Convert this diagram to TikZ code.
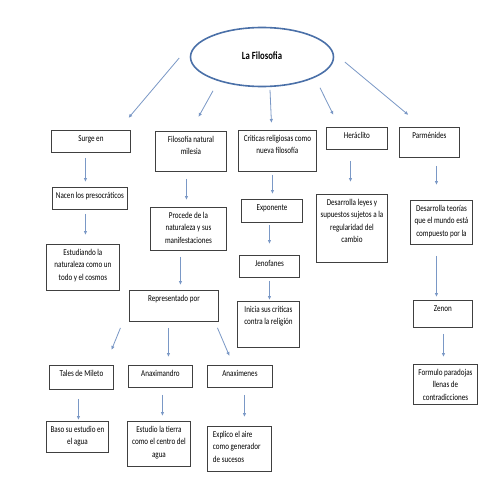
\documentclass[tikz,border=0pt]{standalone}
\usepackage{fontspec}
\setmainfont{Carlito}[FakeStretch=0.79]
\usetikzlibrary{arrows.meta,shapes.geometric}
\definecolor{ellblue}{RGB}{74,112,168}
\definecolor{arrblue}{RGB}{122,152,198}
\definecolor{boxgray}{RGB}{64,64,64}
% fixed size box, text at the top
\newcommand{\boxtext}[3]{\parbox[c][#2pt][t]{#1pt}{\centering\rule{0pt}{11pt}#3}}

\begin{document}
\begin{tikzpicture}[x=1pt, y=-1pt,
  box/.style={draw=boxgray, line width=0.9pt, anchor=north west, inner sep=0pt, font=\fontsize{9}{12.3}\selectfont},
  title/.style={ellipse, draw=ellblue, line width=1.6pt, minimum width=143pt, minimum height=59pt, inner sep=0pt, font=\fontsize{11}{13}\selectfont\bfseries},
  arr/.style={draw=arrblue, line width=0.8pt, -{Latex[length=4pt,width=3.5pt]}}
]
\fill[white] (0,0) rectangle (495,495);

\node[title] (title) at (262,57) {\raisebox{3pt}{La Filosofia}};

% first row
\node[box] (surge) at (51,130) {\boxtext{79}{22}{Surge en}};
\node[box] (milesia) at (155,131) {\boxtext{71}{40}{Filosofía natural\\milesia}};
\node[box] (criticas) at (238,130) {\boxtext{78}{41}{Criticas religiosas como\\nueva filosofía}};
\node[box] (heraclito) at (326,127) {\boxtext{61}{22}{Heráclito}};
\node[box] (parmenides) at (399,127) {\boxtext{60}{30}{Parménides}};

% second row
\node[box] (nacen) at (52,187) {\boxtext{75}{22}{Nacen los presocráticos}};
\node[box] (procede) at (150,207) {\boxtext{76}{43}{Procede de la\\naturaleza y sus\\manifestaciones}};
\node[box] (exponente) at (241,199) {\boxtext{61}{23}{Exponente}};
\node[box] (leyes) at (316,194) {\boxtext{71}{68}{Desarrolla leyes y\\supuestos sujetos a la\\regularidad del\\cambio}};
\node[box] (teorias) at (410,200) {\boxtext{62}{44}{Desarrolla teorías\\que el mundo está\\compuesto por la}};

% third row
\node[box] (estudiando) at (46,244) {\boxtext{73}{46}{Estudiando la\\naturaleza como un\\todo y el cosmos}};
\node[box] (jenofanes) at (239,255) {\boxtext{60}{22}{Jenofanes}};
\node[box] (representado) at (129,290) {\boxtext{89}{31}{Representado por}};
\node[box] (inicia) at (237,301) {\boxtext{62}{46}{Inicia sus críticas\\contra la religión}};
\node[box] (zenon) at (413,300) {\boxtext{59}{27}{Zenon}};
\node[box] (formulo) at (413,364) {\boxtext{64}{40}{Formulo paradojas\\llenas de\\contradicciones}};

% milesians
\node[box] (tales) at (49,365) {\boxtext{64}{24}{Tales de Mileto}};
\node[box] (anaximandro) at (128,365) {\boxtext{64}{22}{Anaximandro}};
\node[box] (anaximenes) at (207,365) {\boxtext{65}{22}{Anaximenes}};
\node[box] (baso) at (46,421) {\boxtext{62}{31}{Baso su estudio en\\el agua}};
\node[box] (tierra) at (127,421) {\boxtext{63}{45}{Estudio la tierra\\como el centro del\\agua}};
\node[box] (aire) at (207,426) {\parbox[c][45pt][t]{64pt}{\raggedright\leftskip=5.5pt\rule{0pt}{11pt}Explico el aire\\como generador\\de sucesos}};

% arrows from the title
\draw[arr] ([xshift=-10.5,yshift=-1]title.west) -- ([xshift=37.5,yshift=12]surge.north);
\draw[arr] ([xshift=-49,yshift=-3.5]title.south) -- ([xshift=7.5,yshift=14]milesia.north);
\draw[arr] ([xshift=8,yshift=-2.5]title.south) -- ([xshift=-6,yshift=7]criticas.north);
\draw[arr] ([xshift=58,yshift=-0.5]title.south) -- ([xshift=-23.5,yshift=12]heraclito.north);
\draw[arr] ([xshift=10.5,yshift=-5]title.east) -- ([xshift=-21,yshift=12]parmenides.north);

% columns
\draw[arr] ([xshift=-5.5,yshift=-5]surge.south) -- ([xshift=-4.5,yshift=5]nacen.north);
\draw[arr] ([xshift=-4.5,yshift=-4]nacen.south) -- ([xshift=2.5,yshift=9]estudiando.north);
\draw[arr] ([xshift=-4.5,yshift=-7]milesia.south) -- ([xshift=-2,yshift=7]procede.north);
\draw[arr] ([xshift=-8,yshift=-6]procede.south) -- ([xshift=6.5,yshift=5]representado.north);
\draw[arr] ([xshift=-5,yshift=-3]criticas.south) -- ([xshift=0.5,yshift=5]exponente.north);
\draw[arr] ([xshift=-2.5,yshift=-2]exponente.south) -- ([yshift=11]jenofanes.north);
\draw[arr] ([yshift=-3]jenofanes.south) -- ([xshift=1,yshift=1]inicia.north);
\draw[arr] ([xshift=-6.5,yshift=-11]heraclito.south) -- ([xshift=-1.5,yshift=12]leyes.north);
\draw[arr] ([xshift=7,yshift=-8]parmenides.south) -- ([xshift=-5,yshift=15]teorias.north);
\draw[arr] ([xshift=-5,yshift=-11]teorias.south) -- ([xshift=-6.5,yshift=3]zenon.north);
\draw[arr] ([xshift=0.5,yshift=-6]zenon.south) -- ([xshift=-2,yshift=7]formulo.north);

% representado por
\draw[arr] ([xshift=-53.5,yshift=-6]representado.south) -- ([xshift=30,yshift=15]tales.north);
\draw[arr] ([xshift=-5.5,yshift=-6]representado.south) -- ([xshift=8,yshift=8]anaximandro.north);
\draw[arr] ([xshift=43.5,yshift=-6]representado.south) -- ([xshift=-10.5,yshift=9]anaximenes.north);
\draw[arr] ([xshift=-3,yshift=-9]tales.south) -- ([xshift=1,yshift=1]baso.north);
\draw[arr] ([xshift=2,yshift=-7]anaximandro.south) -- ([xshift=3.5,yshift=5]tierra.north);
\draw[arr] ([xshift=4.5,yshift=-7]anaximenes.south) -- ([xshift=5,yshift=9]aire.north);
\end{tikzpicture}
\end{document}
